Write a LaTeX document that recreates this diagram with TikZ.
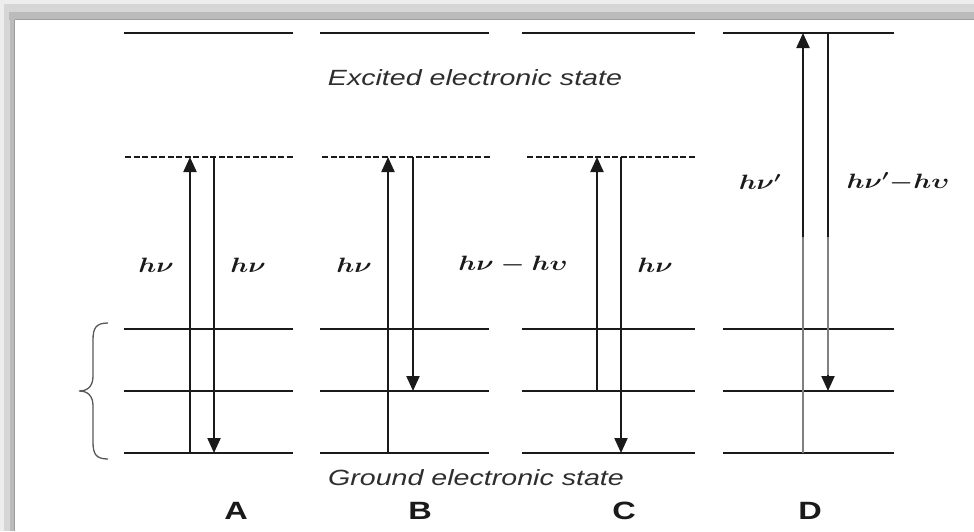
\documentclass[tikz,border=0pt]{standalone}
\usepackage{fontspec}
\newfontfamily\arialf{Liberation Sans}
\usetikzlibrary{arrows.meta}
\newcommand{\sx}[1]{\scalebox{1.3}[1]{#1}}
\definecolor{fr1}{HTML}{EDEDED}
\definecolor{fr2}{HTML}{D6D6D6}
\definecolor{fr3}{HTML}{BBBBBB}
\definecolor{fr4}{HTML}{9C9C9C}
\definecolor{ink}{HTML}{1A1A1A}
\begin{document}
\begin{tikzpicture}[x=1pt,y=-1pt,
  lvl/.style={line width=1.8pt, draw=ink},
  dsh/.style={line width=2.2pt, draw=ink, dash pattern=on 6pt off 2.5pt},
  arr/.style={line width=2.1pt, draw=ink, -{Triangle[length=15pt,width=13pt]}},
  lab/.style={inner sep=0pt, font=\fontsize{21}{24}\selectfont\boldmath, text=ink},
  statetxt/.style={inner sep=0pt, font=\arialf\itshape\fontsize{22}{26}\selectfont, text=black!82},
  letter/.style={inner sep=0pt, font=\arialf\bfseries\fontsize{25}{28}\selectfont, text=ink}]
\useasboundingbox (0,0) rectangle (974,531);
\fill[white] (0,0) rectangle (974,531);
% frame shadow
\fill[fr1] (0,0) rectangle (974,20);
\fill[fr1] (0,0) rectangle (15,531);
\fill[fr2] (4,4) rectangle (974,20);
\fill[fr2] (4,4) rectangle (15,531);
\fill[fr3] (9,12) rectangle (974,20);
\fill[fr3] (10,12) rectangle (15,531);
\draw[fr4, line width=1.5pt] (15,19.5) -- (974,19.5);
\draw[fr4, line width=1pt] (14.5,20) -- (14.5,531);

% levels
\foreach \a/\b in {124/293, 320/489, 522/695, 723/894}{
  \draw[lvl] (\a,33) -- (\b,33);
  \draw[lvl] (\a,329) -- (\b,329);
  \draw[lvl] (\a,391) -- (\b,391);
  \draw[lvl] (\a,453) -- (\b,453);
}
\foreach \a/\b in {125/293, 322/490, 527/696}{
  \draw[dsh] (\a,157) -- (\b,157);
}

% coordinates for transitions
\coordinate (A0) at (190,453); \coordinate (A1) at (190,157);
\coordinate (A2) at (214,157); \coordinate (A3) at (214,453);
\coordinate (B0) at (388,453); \coordinate (B1) at (388,157);
\coordinate (B2) at (413,157); \coordinate (B3) at (413,391);
\coordinate (C0) at (597,391); \coordinate (C1) at (597,157);
\coordinate (C2) at (621,157); \coordinate (C3) at (621,453);
\coordinate (D0) at (803,453); \coordinate (D1) at (803,33);
\coordinate (D2) at (828,33);  \coordinate (D3) at (828,391);
\coordinate (Dm0) at (803,237); \coordinate (Dm1) at (828,237);
\coordinate (Dm2) at (828,375);

\draw[arr] (A0) -- (A1);
\draw[arr] (A2) -- (A3);
\draw[arr] (B0) -- (B1);
\draw[arr] (B2) -- (B3);
\draw[arr] (C0) -- (C1);
\draw[arr] (C2) -- (C3);
\draw[arr] (D0) -- (D1);
\draw[arr] (D2) -- (D3);
\draw[line width=2.1pt, draw=black!50] (D0) -- (Dm0);
\draw[line width=2.1pt, draw=black!50] (Dm1) -- (Dm2);

% brace
\draw[line width=1.3pt, draw=black!65]
  (108,323) .. controls (96,323) and (93,328) .. (93,340) -- (93,376)
  .. controls (93,386) and (88,391) .. (79,391)
  .. controls (88,391) and (93,396) .. (93,406) -- (93,442)
  .. controls (93,454) and (96,459) .. (108,459);

% labels
\node[lab] (lA1) at (156,265) {\sx{$h\nu$}};
\node[lab] (lA2) at (248,265) {\sx{$h\nu$}};
\node[lab] (lB1) at (354,265) {\sx{$h\nu$}};
\node[lab] (lB2) at (513,265) {\sx{$h\nu - h\upsilon$}};
\node[lab] (lC2) at (655,265) {\sx{$h\nu$}};
\node[lab] (lD1) at (760,182) {\sx{$h\nu'$}};
\node[lab] (lD2) at (898,182) {\sx{$h\nu'{-}h\upsilon$}};

\node[statetxt] (exc) at (475,78) {\sx{Excited electronic state}};
\node[statetxt] (gnd) at (476,478) {\sx{Ground electronic state}};

\node[letter] (LA) at (236,511) {\sx{A}};
\node[letter] (LB) at (420,511) {\sx{B}};
\node[letter] (LC) at (624,511) {\sx{C}};
\node[letter] (LD) at (810,511) {\sx{D}};
\end{tikzpicture}
\end{document}
